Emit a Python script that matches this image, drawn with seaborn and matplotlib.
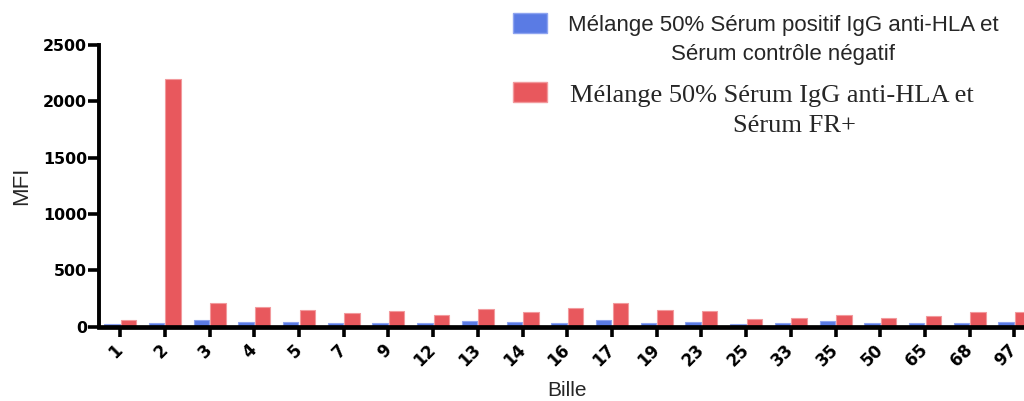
import numpy as np
import pandas as pd
import matplotlib
matplotlib.use("Agg")
import matplotlib.pyplot as plt
import seaborn as sns
from matplotlib.patches import Rectangle

# ---------------- data ----------------
billes = ["1", "2", "3", "4", "5", "7", "9", "12", "13", "14", "16", "17",
          "19", "23", "25", "33", "35", "50", "65", "68", "97"]
controle_negatif = [23, 32, 59, 41, 44, 29, 32, 32, 50, 44, 32, 59,
                    32, 41, 26, 32, 50, 32, 32, 32, 41]
fr_positif = [58, 2200, 207, 174, 150, 123, 136, 103, 156, 132, 163, 207,
              147, 139, 65, 79, 100, 74, 94, 127, 130]
serie_labels = ["Mélange 50% Sérum positif IgG anti-HLA et\nSérum contrôle négatif",
                "Mélange 50% Sérum IgG anti-HLA et\nSérum FR+"]
y_ticks = [0, 500, 1000, 1500, 2000, 2500]

df = pd.DataFrame({
    "Bille": billes * 2,
    "MFI": controle_negatif + fr_positif,
    "Serie": [serie_labels[0]] * len(billes) + [serie_labels[1]] * len(billes),
})

# ---------------- style ----------------
sns.set_style("ticks")
plt.rcParams["font.family"] = ["Liberation Sans", "DejaVu Sans"]

W, H = 1024, 401
fig = plt.figure(figsize=(W / 100, H / 100), dpi=100)

def px(x0, y0, x1, y1):
    return [x0 / W, 1 - y1 / H, (x1 - x0) / W, (y1 - y0) / H]

ax = fig.add_axes(px(98.7, 45, 1024, 326.6))

blue = "#5A7BE4"
red = "#E8585D"
edge_cols = ["#8EA4F0", "#F29A9D"]

sns.barplot(data=df, x="Bille", y="MFI", hue="Serie", order=billes,
            hue_order=serie_labels, palette=[blue, red], width=0.74, gap=0.07,
            errorbar=None, saturation=1, legend=False, ax=ax)
for cont, ec in zip(ax.containers, edge_cols):
    for p in cont:
        p.set_edgecolor(ec)
        p.set_linewidth(0.8)

ax.set_ylim(0, 2500)
ax.set_xlim(-0.48, 20.215)
ax.set_yticks(y_ticks)
ax.set_yticklabels([str(v) for v in y_ticks], fontfamily="DejaVu Sans",
                   fontweight="bold", fontsize=11.4)
ax.set_xticks(range(len(billes)))
ax.set_xticklabels(billes, fontfamily="DejaVu Sans", fontweight="bold",
                   fontsize=12, rotation=45, ha="right", va="center",
                   rotation_mode="anchor")

for s in ["top", "right"]:
    ax.spines[s].set_visible(False)
ax.spines["left"].set_linewidth(2.8)
ax.spines["bottom"].set_linewidth(3.4)
ax.spines["left"].set_color("black")
ax.spines["bottom"].set_color("black")
ax.tick_params(axis="y", length=8, width=2.6, pad=0.5, colors="black")
ax.tick_params(axis="x", length=7.5, width=2.6, pad=7.5, colors="black")

ax.set_xlabel("Bille", fontsize=15, va="center")
ax.set_ylabel("MFI", fontsize=16, va="center")
ax.xaxis.set_label_coords((567 - 98.7) / 925.3, -(390 - 326.6) / 281.6)
ax.yaxis.set_label_coords((22 - 98.7) / 925.3, 0.5)

# ---------------- legend (drawn manually) ----------------
fig.add_artist(Rectangle((513 / W, 1 - 33 / H), 34 / W, 20 / H,
                         transform=fig.transFigure, facecolor=blue,
                         edgecolor=edge_cols[0], linewidth=1))
fig.add_artist(Rectangle((513 / W, 1 - 102 / H), 34 / W, 20 / H,
                         transform=fig.transFigure, facecolor=red,
                         edgecolor=edge_cols[1], linewidth=1))

l1a, l1b = serie_labels[0].split("\n")
l2a, l2b = serie_labels[1].split("\n")
fig.text(783 / W, 1 - 31 / H, l1a, ha="center", va="baseline",
         fontsize=16, fontfamily="Liberation Sans")
fig.text(783 / W, 1 - 60 / H, l1b, ha="center", va="baseline",
         fontsize=16, fontfamily="Liberation Sans")
fig.text(772 / W, 1 - 101.7 / H, l2a, ha="center", va="baseline",
         fontsize=19, fontfamily="Liberation Serif")
fig.text(794 / W, 1 - 131.7 / H, l2b, ha="center", va="baseline",
         fontsize=19, fontfamily="Liberation Serif")

fig.savefig("out.png", dpi=100)
